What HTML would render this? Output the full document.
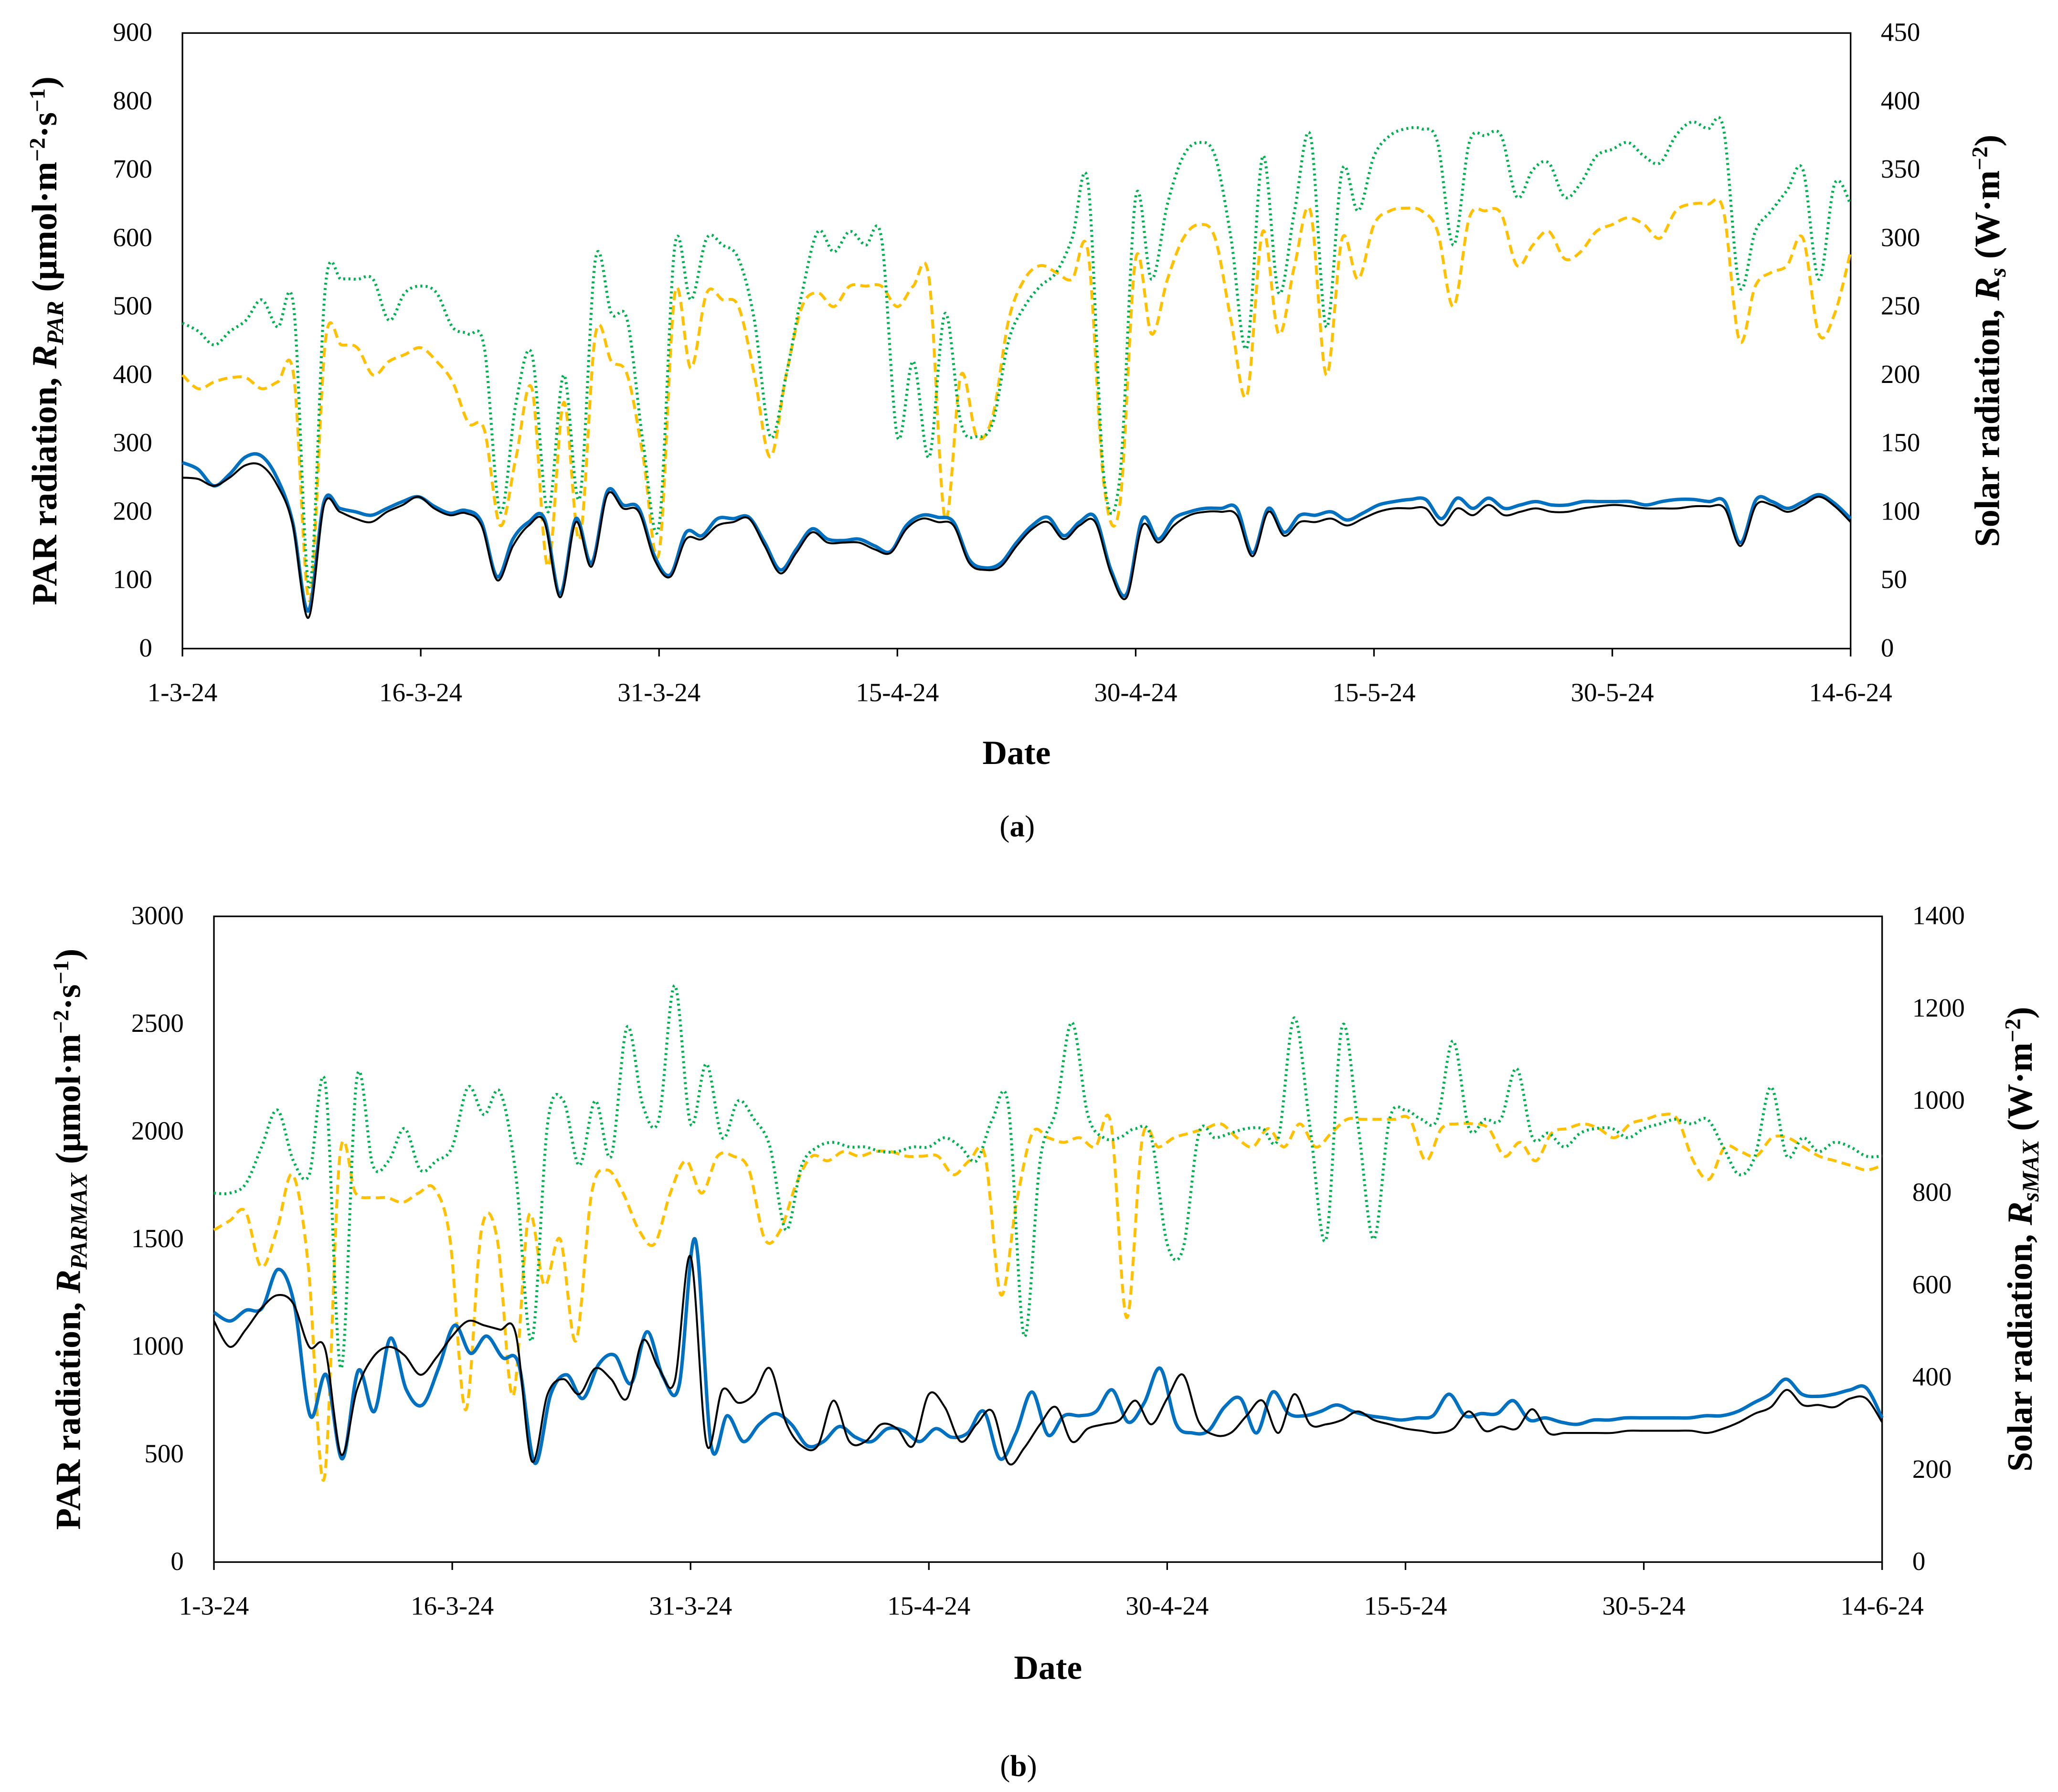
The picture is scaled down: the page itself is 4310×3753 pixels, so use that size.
<!DOCTYPE html>
<html><head><meta charset="utf-8">
<style>
html,body{margin:0;padding:0;background:#fff;}
svg{display:block;}
text{font-family:"Liberation Serif","DejaVu Serif",serif;fill:#000;}
</style></head>
<body>
<svg id="fig" width="4310" height="3753" viewBox="0 0 1568 1365" xmlns="http://www.w3.org/2000/svg">
<g id="ca"></g>
<g id="cb"></g>
</svg>
<script>
const dateLabels = ["1-3-24","16-3-24","31-3-24","15-4-24","30-4-24","15-5-24","30-5-24","14-6-24"];
const ticksA_left = [0,100,200,300,400,500,600,700,800,900];
const ticksA_right = [0,50,100,150,200,250,300,350,400,450];
const ticksB_left = [0,500,1000,1500,2000,2500,3000];
const ticksB_right = [0,200,400,600,800,1000,1200,1400];

// Chart (a): PAR series (µmol m-2 s-1, left axis)
const aBlack = [250,248,238,250,268,268,240,182,45,210,200,190,185,200,210,222,205,195,198,180,100,150,180,185,75,185,120,225,205,200,130,105,160,160,180,185,190,150,110,140,170,155,155,155,145,140,175,190,185,180,125,115,120,150,175,185,160,180,185,110,75,180,155,180,195,200,200,195,135,200,165,185,185,190,180,190,200,205,205,205,180,205,195,210,195,200,205,200,200,205,208,210,208,205,205,205,208,208,205,150,210,210,200,210,222,208,185];
const aBlue = [272,262,238,255,280,282,250,185,55,215,205,200,195,205,215,222,208,198,202,185,105,160,185,190,80,190,125,230,210,205,135,108,170,165,190,190,192,155,115,145,175,160,158,160,150,142,180,195,192,185,130,118,125,155,180,192,165,185,192,115,80,190,160,190,200,205,205,205,140,205,170,195,195,200,188,198,210,215,218,218,190,220,205,220,205,210,215,210,210,215,215,215,215,210,215,218,218,215,215,155,218,215,205,215,225,212,190];
// Solar radiation (W m-2, right axis)
const aGreen = [238,232,222,232,240,255,235,250,45,265,270,270,270,240,260,265,260,235,230,220,100,180,215,100,200,110,285,245,240,150,90,295,255,300,295,285,240,155,200,260,305,290,305,295,300,155,210,140,245,165,155,165,225,250,265,275,300,340,125,125,330,270,325,360,370,360,300,220,360,260,320,375,235,350,320,360,375,380,380,370,295,370,375,375,330,350,355,330,340,360,365,370,360,355,375,385,380,380,265,305,320,335,350,270,340,325];
const aOrange = [200,190,195,198,198,190,195,200,35,225,222,220,200,210,215,220,210,195,165,160,90,140,190,60,180,80,230,210,200,140,70,260,205,260,255,250,200,140,200,250,260,250,265,265,265,250,265,270,95,200,155,170,240,270,280,275,270,290,120,105,285,230,270,300,310,300,240,185,305,230,280,320,200,300,270,310,320,322,320,305,250,315,320,318,280,295,305,285,290,305,310,315,310,300,320,325,325,320,225,265,275,280,300,230,245,290];

// Chart (b): max PAR (left) and max solar (right)
const bBlack = [1120,1000,1080,1180,1240,1200,1000,990,500,800,950,1000,960,870,950,1050,1120,1100,1080,1060,470,780,850,780,900,850,760,1030,900,840,1420,550,800,740,780,900,650,540,540,750,560,560,640,620,540,780,720,560,640,700,460,530,640,720,560,620,640,660,750,640,760,870,650,590,600,680,750,600,780,640,640,660,700,660,640,620,610,600,620,700,610,630,620,710,600,600,600,600,600,610,610,610,610,610,600,620,650,690,720,800,730,730,720,760,760,650];
const bBlue = [1160,1120,1170,1180,1360,1200,680,870,480,890,700,1040,800,730,900,1100,970,1050,950,920,460,780,870,760,920,960,830,1070,860,820,1500,540,680,560,640,690,640,540,560,630,580,560,620,610,560,620,580,600,700,480,600,790,590,680,680,700,800,650,740,900,640,600,610,720,760,600,790,690,680,700,730,700,680,670,660,670,680,780,680,690,690,750,660,670,650,640,660,660,670,670,670,670,670,680,680,700,740,780,850,780,770,780,800,810,670];
const bGreen = [800,800,820,900,980,870,840,1040,420,1050,860,870,940,850,870,900,1030,970,1020,840,480,950,1000,860,1000,880,1160,990,960,1250,950,1080,920,1000,960,900,720,860,900,910,900,900,890,890,900,900,920,900,870,960,990,490,870,980,1170,970,920,920,940,920,690,680,930,920,930,940,940,920,1180,940,700,1160,950,700,960,980,960,960,1130,940,960,960,1070,920,930,900,930,940,940,920,940,950,960,950,960,900,840,880,1030,880,920,890,910,900,880,880];
const bOrange = [720,740,760,640,720,840,640,180,880,800,790,790,780,800,810,700,330,720,700,360,750,600,700,480,800,850,800,720,690,800,870,800,880,880,850,700,720,820,880,870,890,880,890,890,880,880,880,840,870,880,580,780,930,920,910,920,900,950,530,920,900,920,930,940,950,920,900,940,900,950,900,930,960,960,960,960,960,870,940,950,950,940,880,910,870,930,940,950,940,920,950,960,970,960,870,830,900,890,880,920,920,900,880,870,860,850,860];

const NS = "http://www.w3.org/2000/svg";
function mk(parent, tag, attrs, txt){
  const e = document.createElementNS(NS, tag);
  for (const k in attrs) e.setAttribute(k, attrs[k]);
  if (txt !== undefined) e.textContent = txt;
  parent.appendChild(e);
  return e;
}
function smoothPath(pts){
  let d = "M"+pts[0][0].toFixed(2)+","+pts[0][1].toFixed(2);
  for (let i=0;i<pts.length-1;i++){
    const p0=pts[Math.max(0,i-1)], p1=pts[i], p2=pts[i+1], p3=pts[Math.min(pts.length-1,i+2)];
    const c1x=p1[0]+(p2[0]-p0[0])/6, c1y=p1[1]+(p2[1]-p0[1])/6;
    const c2x=p2[0]-(p3[0]-p1[0])/6, c2y=p2[1]-(p3[1]-p1[1])/6;
    d += " C"+c1x.toFixed(2)+","+c1y.toFixed(2)+" "+c2x.toFixed(2)+","+c2y.toFixed(2)+" "+p2[0].toFixed(2)+","+p2[1].toFixed(2);
  }
  return d;
}

function drawChart(g, cfg){
  const {x0,x1,y0,y1,lmax,rmax,lt,rt,lxLab,rxLab,dateY,dateTitleY,capY,capText,lTitle,rTitle} = cfg;
  const xScale = (i,n)=> x0 + i*(x1-x0)/(n-1);
  const yL = v=> y1 - v/lmax*(y1-y0);
  const yR = v=> y1 - v/rmax*(y1-y0);
  const frame = mk(g,"rect",{x:x0,y:y0,width:x1-x0,height:y1-y0,fill:"none",stroke:"#000","stroke-width":1.2});
  
  
  lt.forEach(v=>{
    const t = mk(g,"text",{x:lxLab,y:yL(v)+6,"text-anchor":"end","font-size":20},String(v));
    
    
  });
  rt.forEach(v=>{
    const t = mk(g,"text",{x:rxLab,y:yR(v)+6,"text-anchor":"start","font-size":20},String(v));
    
    
  });
  dateLabels.forEach((s,i)=>{
    const x = x0 + i*(x1-x0)/(dateLabels.length-1);
    const tk = mk(g,"line",{x1:x,x2:x,y1:y1,y2:y1+6,stroke:"#000","stroke-width":1.2});
    
    
    const t = mk(g,"text",{x:x,y:dateY,"text-anchor":"middle","font-size":20},s);
    
    
  });
  const dt = mk(g,"text",{x:(x0+x1)/2,y:dateTitleY,"text-anchor":"middle","font-size":26,"font-weight":"bold"},"Date");
  
  
  const cap = mk(g,"text",{x:cfg.capX,y:capY,"text-anchor":"middle","font-size":23},"");
  
  
  mk(cap,"tspan",{},"(");
  mk(cap,"tspan",{"font-weight":"bold"},capText);
  mk(cap,"tspan",{},")");

  const series = [
    {d:cfg.orange, y:yR, stroke:"#FFC000", w:2.2, dash:"7,4", name:"solar-radiation-dashed-line"},
    {d:cfg.green, y:yR, stroke:"#00B050", w:2.2, dash:"1.5,2.5", name:"solar-radiation-dotted-line"},
    {d:cfg.blue, y:yL, stroke:"#0070C0", w:2.6, dash:"", name:"par-radiation-blue-line"},
    {d:cfg.black, y:yL, stroke:"#000", w:1.5, dash:"", name:"par-radiation-black-line"}
  ];
  series.forEach(s=>{
    const pts = s.d.map((v,i)=>[xScale(i,s.d.length), s.y(v)]);
    const p = mk(g,"path",{d:smoothPath(pts),fill:"none",stroke:s.stroke,"stroke-width":s.w,"stroke-dasharray":s.dash,"stroke-linejoin":"round"});
    
    
  });

  const lt1 = mk(g,"text",{transform:`translate(${cfg.ltx},${(y0+y1)/2}) rotate(-90)`,"text-anchor":"middle","font-size":27,"font-weight":"bold"},"");
  
  
  lTitle(lt1);
  const rt1 = mk(g,"text",{transform:`translate(${cfg.rtx},${(y0+y1)/2}) rotate(-90)`,"text-anchor":"middle","font-size":27,"font-weight":"bold"},"");
  
  
  rTitle(rt1);
}

drawChart(document.getElementById("ca"),{
  x0:139,x1:1410,y0:25,y1:494,lmax:900,rmax:450,lt:ticksA_left,rt:ticksA_right,
  lxLab:116,rxLab:1433,dateY:534,dateTitleY:582,capX:775,capY:637,capText:"a",
  black:aBlack,blue:aBlue,green:aGreen,orange:aOrange,ltx:43,rtx:1523,
  lTitle:t=>{mk(t,"tspan",{},"PAR radiation, ");mk(t,"tspan",{"font-style":"italic"},"R");mk(t,"tspan",{"font-style":"italic","font-size":18,dy:5},"PAR");mk(t,"tspan",{dy:-5},"  (μmol·m");mk(t,"tspan",{"font-size":17,dy:-9},"−2");mk(t,"tspan",{dy:9},"·s");mk(t,"tspan",{"font-size":17,dy:-9},"−1");mk(t,"tspan",{dy:9},")");},
  rTitle:t=>{mk(t,"tspan",{},"Solar radiation, ");mk(t,"tspan",{"font-style":"italic"},"R");mk(t,"tspan",{"font-style":"italic","font-size":18,dy:5},"s");mk(t,"tspan",{dy:-5}," (W·m");mk(t,"tspan",{"font-size":17,dy:-9},"−2");mk(t,"tspan",{dy:9},")");}
});
drawChart(document.getElementById("cb"),{
  x0:163,x1:1434,y0:698,y1:1190,lmax:3000,rmax:1400,lt:ticksB_left,rt:ticksB_right,
  lxLab:140,rxLab:1457,dateY:1230,dateTitleY:1279,capX:776,capY:1353,capText:"b",
  black:bBlack,blue:bBlue,green:bGreen,orange:bOrange,ltx:61,rtx:1548,
  lTitle:t=>{mk(t,"tspan",{},"PAR radiation, ");mk(t,"tspan",{"font-style":"italic"},"R");mk(t,"tspan",{"font-style":"italic","font-size":18,dy:5},"PARMAX");mk(t,"tspan",{dy:-5}," (μmol·m");mk(t,"tspan",{"font-size":17,dy:-9},"−2");mk(t,"tspan",{dy:9},"·s");mk(t,"tspan",{"font-size":17,dy:-9},"−1");mk(t,"tspan",{dy:9},")");},
  rTitle:t=>{mk(t,"tspan",{},"Solar radiation, ");mk(t,"tspan",{"font-style":"italic"},"R");mk(t,"tspan",{"font-style":"italic","font-size":18,dy:5},"sMAX");mk(t,"tspan",{dy:-5}," (W·m");mk(t,"tspan",{"font-size":17,dy:-9},"−2");mk(t,"tspan",{dy:9},")");}
});
</script>
</body></html>
